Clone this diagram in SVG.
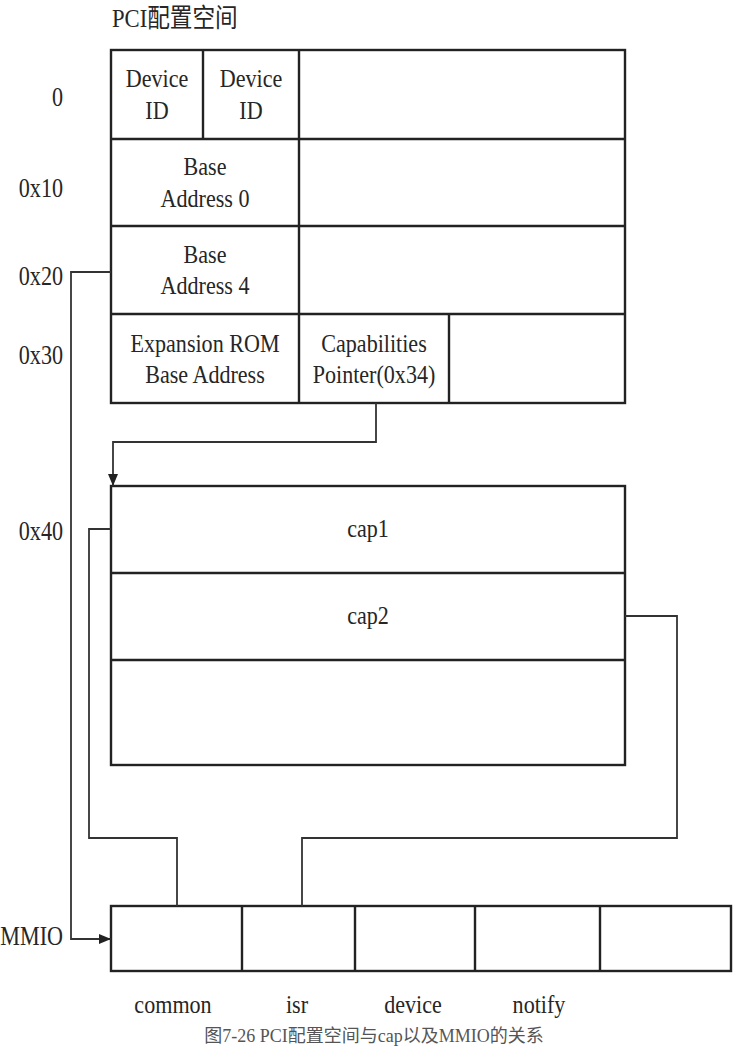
<svg xmlns="http://www.w3.org/2000/svg" width="736" height="1046" viewBox="0 0 736 1046">
<style>
.t{font-family:"Liberation Serif","Noto Sans CJK SC",serif;font-size:26px;fill:#262626;text-anchor:middle}
.l{font-family:"Liberation Serif",serif;font-size:27px;fill:#262626;text-anchor:end}
.box{fill:#fff;stroke:#222;stroke-width:2.4}
.div{stroke:#222;stroke-width:2.4;fill:none}
.c{stroke:#333;stroke-width:1.8;fill:none}
.cap{font-family:"Liberation Serif","Noto Sans CJK SC",serif;font-size:18px;fill:#555;text-anchor:middle}
</style>
<defs>
<marker id="ah" viewBox="0 0 12 10" refX="12" refY="5" markerWidth="12" markerHeight="10" markerUnits="userSpaceOnUse" orient="auto">
<path d="M0,0 L12,5 L0,10 Z" fill="#222"/>
</marker>
</defs>
<rect width="736" height="1046" fill="#fff"/>

<text class="t" transform="translate(112,27) scale(0.87,1)" text-anchor="start" style="text-anchor:start">PCI配置空间</text>

<g id="offsets">
<text class="l" transform="translate(63,106) scale(0.82,1)">0</text>
<text class="l" transform="translate(63,197) scale(0.82,1)">0x10</text>
<text class="l" transform="translate(63,285) scale(0.82,1)">0x20</text>
<text class="l" transform="translate(63,364) scale(0.82,1)">0x30</text>
<text class="l" transform="translate(63,540) scale(0.82,1)">0x40</text>
<text class="l" transform="translate(63,945) scale(0.82,1)">MMIO</text>
</g>

<g id="pci-config">
<rect class="box" x="111" y="50" width="514" height="353"/>
<line class="div" x1="111" y1="139" x2="625" y2="139"/>
<line class="div" x1="111" y1="226" x2="625" y2="226"/>
<line class="div" x1="111" y1="314" x2="625" y2="314"/>
<line class="div" x1="203" y1="50" x2="203" y2="139"/>
<line class="div" x1="299" y1="50" x2="299" y2="403"/>
<line class="div" x1="449" y1="314" x2="449" y2="403"/>
</g>
<g id="device-id-1"><text class="t" transform="translate(157,87) scale(0.85,1)"><tspan x="0" y="0">Device</tspan><tspan x="0" y="32">ID</tspan></text></g>
<g id="device-id-2"><text class="t" transform="translate(251,87) scale(0.85,1)"><tspan x="0" y="0">Device</tspan><tspan x="0" y="32">ID</tspan></text></g>
<g id="bar0"><text class="t" transform="translate(205,175) scale(0.85,1)"><tspan x="0" y="0">Base</tspan><tspan x="0" y="32">Address 0</tspan></text></g>
<g id="bar4"><text class="t" transform="translate(205,263) scale(0.85,1)"><tspan x="0" y="0">Base</tspan><tspan x="0" y="31">Address 4</tspan></text></g>
<g id="rom"><text class="t" transform="translate(205,352) scale(0.85,1)"><tspan x="0" y="0">Expansion ROM</tspan><tspan x="0" y="31">Base Address</tspan></text></g>
<g id="cap-ptr"><text class="t" transform="translate(374,352) scale(0.85,1)"><tspan x="0" y="0">Capabilities</tspan><tspan x="0" y="31">Pointer(0x34)</tspan></text></g>

<g id="caps">
<rect class="box" x="111" y="486" width="514" height="279"/>
<line class="div" x1="111" y1="573" x2="625" y2="573"/>
<line class="div" x1="111" y1="660" x2="625" y2="660"/>
</g>
<g id="cap1"><text class="t" transform="translate(368,537) scale(0.85,1)">cap1</text></g>
<g id="cap2"><text class="t" transform="translate(368,624) scale(0.85,1)">cap2</text></g>

<g id="mmio">
<rect class="box" x="111" y="906" width="620" height="65"/>
<line class="div" x1="242" y1="906" x2="242" y2="971"/>
<line class="div" x1="355" y1="906" x2="355" y2="971"/>
<line class="div" x1="475" y1="906" x2="475" y2="971"/>
<line class="div" x1="600" y1="906" x2="600" y2="971"/>
</g>
<g id="mmio-labels">
<text class="t" transform="translate(173,1013) scale(0.85,1)">common</text>
<text class="t" transform="translate(297,1013) scale(0.85,1)">isr</text>
<text class="t" transform="translate(413,1013) scale(0.85,1)">device</text>
<text class="t" transform="translate(539,1013) scale(0.85,1)">notify</text>
</g>

<g id="connectors">
<polyline class="c" points="111,272 71,272 71,939 111,939" marker-end="url(#ah)"/>
<polyline class="c" points="376,403 376,442 113,442 113,486" marker-end="url(#ah)"/>
<polyline class="c" points="111,529 89,529 89,838 177,838 177,906"/>
<polyline class="c" points="625,616 677,616 677,838 302,838 302,906"/>
</g>

<text class="cap" x="374" y="1042">图7-26 PCI配置空间与cap以及MMIO的关系</text>
</svg>
